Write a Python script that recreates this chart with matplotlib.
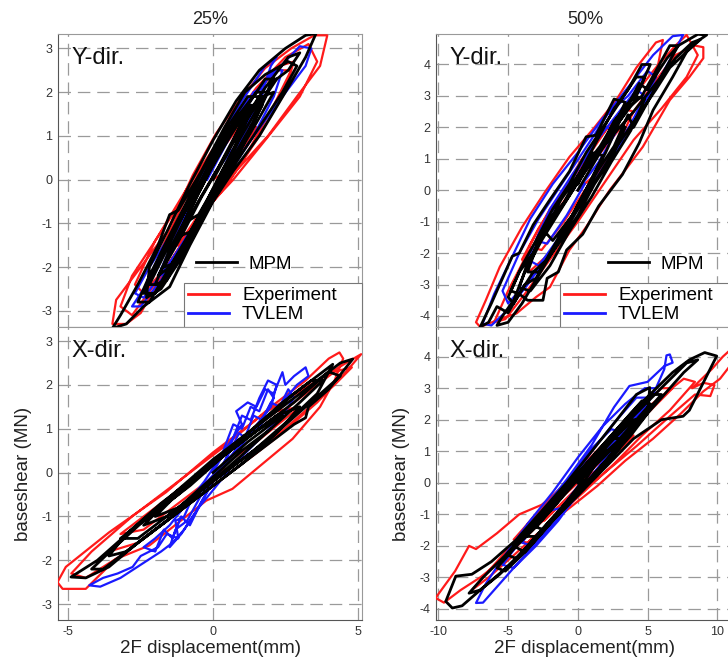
import matplotlib
matplotlib.use("Agg")
import matplotlib.pyplot as plt
from matplotlib.lines import Line2D

plt.rcParams['font.family'] = ['Liberation Sans', 'DejaVu Sans']
plt.rcParams['axes.unicode_minus'] = False

# ---------------- data: (displacement mm, base shear MN) ----------------
# 25 % level, Y direction
y25_exp_d = [0.0, 0.7, 1.5, 1.0, 0.2, -0.6, -1.3, -0.8, 0.0, 1.0, 2.1, 2.7, 2.2, 1.2, 0.2, -0.9, -2.0, -2.7, -2.4, -1.5, -0.4, 0.8, 1.9, 2.9, 3.7, 3.95, 3.5, 2.7, 1.8, 0.9, 0.1, -0.7, -1.6, -2.5, -3.35, -3.48, -3.0, -2.5, -1.6, -0.5, 0.7, 1.8, 3.0, 3.6, 3.3, 2.5, 1.5, 0.5, -0.6, -1.8, -2.8, -3.2, -2.8, -1.8, -0.6, 0.5, 1.5, 2.4, 2.8, 2.3, 1.2, 0.0, -1.0, -1.8, -1.2, 0.0, 0.6]
y25_exp_f = [0.0, 0.3, 1.2, 1.3, 0.6, -0.3, -1.3, -1.2, -0.5, 0.4, 1.7, 2.5, 2.5, 1.8, 0.9, -0.2, -1.4, -2.4, -2.6, -1.9, -0.8, 0.2, 1.0, 1.9, 2.6, 3.3, 3.3, 3.0, 2.55, 1.8, 1.05, 0.1, -1.2, -2.0, -2.75, -3.3, -3.3, -3.05, -2.0, -0.85, 0.0, 0.9, 1.9, 2.7, 3.1, 2.8, 2.1, 1.2, 0.0, -1.2, -2.2, -2.9, -3.1, -2.2, -1.0, -0.1, 0.9, 1.9, 2.7, 2.6, 1.8, 0.6, -0.5, -1.6, -1.5, -0.3, 0.4]
y25_tvlem_d = [0.0, 0.8, 1.6, 2.0, 2.2, 1.8, 1.0, 0.1, -0.8, -1.6, -2.3, -2.8, -2.5, -1.8, -0.9, 0.2, 1.3, 2.4, 3.2, 3.4, 3.0, 2.2, 1.3, 0.4, -0.5, -1.4, -2.2, -2.7, -2.4, -1.5, -0.5, 0.5, 1.4, 2.1, 2.4, 2.1, 1.4, 0.5, -0.5, -1.3, -1.9, -1.5, -0.6, 0.3, 1.2, 1.8, 1.4, 0.6, -0.2]
y25_tvlem_f = [0.1, 0.8, 1.8, 2.6, 2.8, 2.6, 1.8, 0.8, -0.4, -1.6, -2.4, -2.9, -2.9, -2.3, -1.3, -0.2, 0.9, 1.9, 2.6, 3.0, 3.05, 2.5, 1.9, 1.1, 0.0, -1.2, -2.0, -2.6, -2.7, -1.9, -0.9, 0.1, 1.0, 1.9, 2.5, 2.5, 1.9, 1.0, -0.2, -1.3, -2.2, -2.1, -1.1, 0.0, 1.2, 2.1, 2.0, 1.0, 0.0]
y25_mpm_d = [0.0, 0.5, 1.0, 0.6, -0.1, -0.7, -1.2, -0.8, -0.2, 0.6, 1.4, 1.9, 1.5, 0.8, 0.0, -0.8, -1.6, -2.2, -1.8, -1.0, -0.2, 0.7, 1.6, 2.4, 2.9, 2.6, 1.8, 1.1, 0.4, -0.4, -1.2, -1.5, -1.9, -2.6, -3.2, -3.48, -3.0, -2.4, -2.2, -1.5, -0.8, 0.0, 0.7, 1.6, 2.5, 3.2, 3.56, 3.2, 2.5, 1.6, 0.8, 0.0, -0.8, -1.6, -2.2, -2.3, -1.8, -1.0, -0.2, 0.6, 1.4, 2.0, 2.6, 3.0, 2.6, 1.8, 1.0, 0.2, -0.6, -1.4, -1.9, -1.5, -0.7, 0.1, 0.8, 1.3, 0.9, 0.2, -0.5, -1.0, -0.5, 0.2,
             0.9, 1.6, 2.2, 1.8, 1.0, 0.3, -0.5, -1.2, -1.9, -2.4, -2.0, -1.3, -0.6, 0.1, 0.8, 1.5, 2.1, 1.7, 1.0, 0.3, -0.4, -1.1, -1.7, -1.3, -0.6, 0.0, 0.7, 1.2,
             1.6, 1.2, 0.5, -0.2, -0.9, -1.6, -2.2, -2.6, -2.2, -1.5, -0.8, -0.1, 0.6, 1.2, 1.7, 1.3, 0.6, -0.1, -0.8, -1.5, -2.0, -1.6, -0.9, -0.2, 0.4]
y25_mpm_f = [0.0, 0.6, 1.3, 1.2, 0.4, -0.5, -1.3, -1.2, -0.5, 0.3, 1.3, 2.0, 2.0, 1.4, 0.5, -0.5, -1.6, -2.4, -2.4, -1.6, -0.7, 0.3, 1.2, 2.0, 2.6, 2.7, 2.4, 2.0, 1.2, 0.2, -0.7, -0.8, -1.5, -2.4, -3.1, -3.4, -3.3, -2.9, -2.8, -2.45, -1.5, -0.5, 0.2, 1.0, 2.0, 2.8, 3.34, 3.3, 3.0, 2.5, 1.8, 0.9, -0.1, -1.2, -2.0, -2.7, -2.5, -1.7, -0.7, 0.2, 1.3, 2.2, 2.5, 2.9, 2.8, 2.1, 1.3, 0.3, -0.6, -1.6, -2.2, -2.0, -1.1, -0.1, 0.8, 1.6, 1.5, 0.6, -0.3, -1.0, -0.8, 0.0,
             0.9, 1.7, 2.3, 2.3, 1.5, 0.7, -0.2, -1.0, -1.9, -2.6, -2.6, -1.9, -1.1, -0.3, 0.5, 1.3, 2.0, 1.9, 1.2, 0.4, -0.4, -1.3, -2.0, -1.9, -1.0, -0.2, 0.7, 1.4,
             1.9, 1.9, 1.2, 0.4, -0.5, -1.4, -2.2, -2.8, -2.8, -2.0, -1.3, -0.5, 0.4, 1.1, 1.7, 1.7, 1.0, 0.2, -0.7, -1.6, -2.4, -2.3, -1.4, -0.6, 0.1]

# 50 % level, Y direction
y50_exp_d = [0.0, 1.5, 3.0, 4.0, 3.2, 1.8, 0.3, -1.3, -2.8, -4.0, -3.5, -2.0, -0.5, 1.0, 2.6, 4.2, 5.5, 6.1, 5.6, 4.2, 2.8, 1.2, -0.6, -2.27, -4.0, -5.6, -6.6, -7.3, -7.0, -5.6, -4.4, -3.0, -2.0, -0.6, 0.6, 2.28, 3.5, 4.66, 5.6, 6.6, 8.0, 9.0, 9.0, 8.4, 7.0, 5.6, 4.0, 2.0, 0.0, -2.0, -3.6, -5.0, -6.0, -5.2, -3.8, -2.0, 0.0, 2.0, 4.0, 6.0, 7.8, 8.6, 7.8, 7.0, 5.6, 4.0, 2.0, 0.0, -2.0, -3.5, -2.6, -1.0, 0.5]
y50_exp_f = [0.0, 0.6, 1.6, 2.5, 2.6, 1.8, 1.0, -0.2, -1.2, -2.2, -2.6, -2.0, -0.9, 0.2, 1.2, 2.4, 3.4, 4.78, 4.7, 3.9, 2.9, 2.0, 1.06, 0.0, -1.17, -2.44, -3.5, -4.2, -4.35, -4.1, -3.92, -3.4, -3.08, -1.9, -1.17, 0.0, 0.7, 1.38, 2.1, 2.87, 3.6, 4.2, 4.55, 4.6, 4.3, 3.5, 2.5, 1.4, 0.3, -1.0, -2.0, -3.2, -4.2, -4.1, -3.3, -2.2, -1.0, 0.3, 1.6, 2.6, 3.6, 4.3, 4.94, 4.6, 3.9, 3.0, 1.9, 0.6, -0.6, -1.8, -1.9, -1.0, 0.0]
y50_tvlem_d = [0.0, 1.5, 2.8, 2.0, 0.5, -1.2, -2.6, -3.6, -2.8, -1.5, 0.0, 1.6, 3.2, 4.6, 5.6, 5.0, 3.6, 1.8, 0.0, -1.8, -3.4, -4.8, -6.0, -6.83, -6.2, -5.0, -3.6, -2.0, -0.5, 1.2, 2.8, 4.4, 5.8, 6.8, 7.55, 6.8, 5.4, 4.0, 2.4, 0.8, -1.0, -2.8, -4.2, -5.4, -5.0, -3.8, -2.2, -0.8, 0.8, 2.4, 3.8, 4.8, 4.2, 2.8, 1.2, -0.4, -2.0, -3.0, -2.2, -0.8, 0.5]
y50_tvlem_f = [0.0, 0.9, 1.9, 2.0, 1.0, -0.2, -1.2, -2.2, -2.4, -1.6, -0.6, 0.5, 1.6, 2.7, 3.6, 3.8, 3.0, 2.3, 1.2, 0.2, -0.9, -2.2, -3.3, -4.25, -4.3, -3.8, -3.0, -2.0, -0.9, 0.3, 1.4, 2.5, 3.5, 4.3, 4.94, 4.9, 4.3, 3.5, 2.6, 1.5, 0.3, -0.9, -2.0, -3.2, -3.6, -3.0, -2.2, -1.2, 0.0, 1.0, 2.1, 3.0, 3.2, 2.4, 1.5, 0.5, -0.6, -1.6, -1.7, -0.8, 0.2]
y50_mpm_d = [0.0, 1.2, 2.4, 3.4, 2.6, 1.3, 0.6, -0.6, -2.0, -3.2, -4.2, -4.7, -5.4, -6.2, -7.0, -6.4, -5.8, -5.0, -4.2, -3.6, -2.5, -2.2, -1.4, -0.8, 0.35, 1.5, 3.2, 4.4, 5.4, 6.8, 8.0, 9.24, 8.6, 7.2, 6.4, 5.8, 5.0, 4.4, 3.6, 2.6, 1.5, 0.2, -1.2, -2.6, -3.8, -4.6, -5.4, -5.8, -5.0, -4.0, -3.2, -2.4, -1.2, 0.0, 1.4, 2.8, 4.2, 5.6, 6.6, 7.8, 8.8, 8.2, 7.0, 5.6, 4.0, 2.4, 0.8, -0.8, -2.2, -3.6, -4.2, -3.4, -2.0, -0.6, 1.0, 2.4, 3.8, 4.8, 4.0, 2.8, 1.6, 0.2, -1.2, -2.4, -1.8, -0.4, 0.8, 1.8, 1.0, 0.0,
             1.0, 2.2, 3.4, 4.4, 5.2, 4.6, 3.6, 2.6, 1.4, 0.2, -1.0, -2.2, -3.2, -4.2, -5.0, -4.6, -3.8, -3.0, -2.0, -1.0, 0.2, 1.4, 2.6, 3.6, 4.0, 5.0, 6.2, 7.2, 6.6, 5.6, 4.6, 3.6, 2.4, 1.0, -0.4, -1.6, -2.8, -3.6, -2.8, -1.6, -0.4, 0.8,
             2.0, 3.0, 4.0, 4.8, 4.2, 3.0, 1.8, 0.6, -0.6, -1.8, -3.0, -4.0, -4.8, -4.2, -3.2, -2.2, -1.2, 0.0, 1.2, 2.4, 3.4]
y50_mpm_f = [0.0, 0.9, 1.8, 2.8, 2.9, 1.75, 1.7, 0.6, -0.3, -1.1, -2.0, -2.1, -2.8, -3.6, -4.35, -4.2, -3.7, -3.9, -3.3, -3.5, -3.5, -2.8, -2.6, -1.9, -1.4, -0.5, 0.5, 1.5, 2.55, 3.6, 4.56, 4.94, 4.96, 4.6, 4.2, 3.8, 3.2, 3.4, 2.7, 2.2, 1.2, 0.4, -0.6, -1.6, -2.6, -3.5, -4.0, -4.3, -4.2, -3.6, -3.0, -2.4, -1.5, -0.6, 0.4, 1.4, 2.3, 3.2, 3.9, 4.4, 4.8, 4.7, 4.2, 3.4, 2.5, 1.7, 0.8, -0.3, -1.2, -2.3, -3.1, -3.2, -2.4, -1.3, -0.2, 0.9, 1.9, 2.9, 3.0, 2.3, 1.4, 0.6, -0.3, -1.3, -1.6, -0.8, 0.2, 1.1, 1.2, 0.2,
             1.0, 1.6, 2.6, 3.2, 4.0, 4.0, 3.2, 2.6, 1.6, 0.6, -0.4, -1.0, -2.0, -2.6, -3.4, -3.6, -3.0, -2.8, -2.0, -1.2, -0.4, 0.6, 1.4, 2.4, 2.0, 2.8, 3.8, 4.6, 4.6, 3.8, 3.0, 2.6, 1.8, 1.0, 0.0, -0.8, -1.6, -2.6, -2.6, -1.8, -0.8, 0.2,
             1.2, 2.2, 2.8, 3.6, 3.6, 2.8, 2.0, 1.2, 0.2, -0.6, -1.6, -2.4, -3.2, -3.3, -2.6, -2.2, -1.6, -0.8, 0.2, 1.0, 2.0]

# 25 % level, X direction
x25_exp_d = [0.0, 1.5, 3.0, 2.2, 0.8, -0.8, -2.4, -3.6, -2.6, -1.0, 0.6, 2.2, 3.6, 4.6, 5.12, 4.6, 3.6, 1.83, 0.0, -1.63, -3.59, -5.09, -5.38, -5.2, -4.4, -3.36, -2.2, -0.24, 0.67, 2.75, 3.7, 4.2, 4.5, 4.37, 4.0, 3.2, 2.0, 0.4, -1.2, -2.8, -4.2, -4.9, -4.4, -3.2, -1.6, 0.0, 1.6, 3.0, 4.2, 4.8, 4.2, 2.8, 1.2, -0.4, -2.0, -3.2, -2.4, -1.0, 0.4]
x25_exp_f = [0.0, 0.7, 1.5, 1.4, 0.7, -0.2, -1.1, -1.8, -1.6, -0.8, 0.0, 0.8, 1.6, 2.3, 2.7, 2.5, 2.1, 1.38, 0.46, -0.45, -1.36, -2.15, -2.5, -2.65, -2.65, -1.97, -1.66, -0.64, -0.37, 0.77, 1.5, 2.1, 2.6, 2.74, 2.6, 2.1, 1.5, 0.6, -0.2, -1.0, -1.8, -2.3, -2.4, -1.9, -1.1, -0.3, 0.5, 1.3, 2.0, 2.4, 2.3, 1.6, 0.8, 0.0, -0.8, -1.4, -1.3, -0.6, 0.1]
x25_tvlem_d = [0.0, 0.5, 1.0, 0.8, 1.2, 1.5, 1.8, 2.1, 2.4, 2.5, 2.8, 3.2, 3.3, 2.9, 2.4, 1.8, 1.2, 0.5, -0.2, -0.8, -1.0, -1.3, -1.2, -1.6, -1.9, -2.5, -2.78, -3.3, -3.8, -4.28, -3.9, -3.2, -2.5, -1.8, -1.4, -1.0, -0.6, -0.1, 0.4, 0.7, 1.0, 1.3, 1.6, 1.9, 2.2, 2.0, 1.4, 0.8, 0.2, -0.4, -0.9, -1.3, -1.5, -1.1, -0.5, 0.0,
               0.6, 0.9, 1.1, 1.4, 1.7, 2.0, 2.3, 2.6, 2.8, 2.4, 1.8, 1.2, 0.6, 0.0, -0.5, -0.8, -1.1, -1.4, -1.7, -2.0, -2.4, -2.0, -1.5, -0.9, -0.3, 0.3, 0.7, 1.0, 1.3, 1.6, 1.9, 2.1, 1.6, 0.9, 0.3]
x25_tvlem_f = [0.0, 0.6, 1.1, 1.4, 1.6, 1.5, 1.9, 1.8, 2.29, 2.0, 2.2, 2.4, 2.2, 2.0, 1.6, 1.2, 0.8, 0.3, -0.2, -0.7, -1.0, -1.1, -1.5, -1.4, -1.7, -1.9, -2.15, -2.3, -2.4, -2.57, -2.6, -2.4, -2.1, -1.8, -1.6, -1.3, -0.9, -0.3, 0.2, 0.8, 1.3, 1.2, 1.7, 2.1, 2.0, 1.5, 1.0, 0.5, 0.0, -0.5, -1.1, -1.3, -1.7, -1.4, -0.8, -0.2,
               0.5, 0.9, 0.8, 1.3, 1.2, 1.6, 1.5, 1.9, 1.7, 1.3, 0.9, 0.5, 0.1, -0.4, -0.8, -1.2, -1.0, -1.5, -1.3, -1.8, -1.7, -1.5, -1.2, -0.7, -0.2, 0.4, 1.1, 1.0, 1.5, 1.4, 1.9, 1.7, 1.1, 0.6, 0.1]
x25_mpm_d = [0.0, 1.2, 2.4, 1.6, 0.2, -1.2, -2.4, -1.6, -0.2, 1.4, 2.8, 3.6, 4.14, 3.8, 2.8, 1.4, 0.0, -1.4, -2.8, -4.0, -4.91, -4.4, -3.6, -2.6, -1.2, 0.0, 1.4, 2.8, 3.2, 3.3, 4.0, 4.83, 4.4, 3.6, 2.4, 1.0, -0.4, -1.8, -3.0, -3.6, -3.0, -1.8, -0.4, 1.0, 2.2, 3.0, 2.2, 1.0, -0.2, -1.4, -2.0, -1.2, 0.0,
             1.0, 2.0, 3.0, 3.8, 3.4, 2.4, 1.2, 0.0, -1.2, -2.4, -3.4, -4.2, -3.8, -2.8, -1.6, -0.4, 0.8, 2.0, 3.2, 4.4, 4.0, 2.8, 1.6, 0.4, -0.8, -2.0, -3.2, -2.6, -1.4, -0.2, 1.0, 2.0]
x25_mpm_f = [0.0, 0.7, 1.3, 1.0, 0.3, -0.4, -1.2, -1.0, -0.3, 0.5, 1.3, 1.8, 2.47, 2.3, 1.8, 1.0, 0.3, -0.5, -1.3, -2.0, -2.38, -2.4, -2.15, -1.6, -0.9, -0.3, 0.4, 1.1, 1.25, 1.5, 1.9, 2.59, 2.5, 2.1, 1.5, 0.8, 0.0, -0.7, -1.4, -1.9, -1.8, -1.2, -0.5, 0.2, 0.9, 1.5, 1.3, 0.7, 0.1, -0.6, -1.0, -0.8, -0.1,
             0.5, 1.0, 1.6, 2.1, 2.1, 1.6, 0.9, 0.2, -0.5, -1.1, -1.7, -2.2, -2.2, -1.7, -1.1, -0.4, 0.2, 0.8, 1.5, 2.2, 2.3, 1.6, 1.0, 0.4, -0.3, -0.9, -1.5, -1.5, -0.9, -0.3, 0.4, 1.0]

# 50 % level, X direction
x50_exp_d = [0.0, 2.0, 4.0, 3.0, 1.0, -1.0, -3.0, -4.6, -3.6, -1.6, 0.4, 2.6, 4.6, 6.6, 8.4, 7.6, 5.6, 3.6, 1.6, -0.6, -2.6, -4.2, -5.8, -7.3, -7.8, -8.8, -10.2, -9.6, -8.4, -7.0, -5.0, -3.0, -1.0, 1.32, 4.2, 6.6, 8.4, 9.5, 9.8, 9.0, 8.2, 9.6, 10.4, 10.9, 10.9, 10.2, 9.0, 7.4, 5.4, 3.4, 1.4, -0.6, -2.6, -4.6, -6.4, -7.6, -6.8, -5.0, -3.0, -1.0, 1.0, 3.0, 5.0, 6.8, 6.0, 4.0, 2.0, 0.0, -2.0, -3.6, -2.4, -0.6, 1.0]
x50_exp_f = [0.0, 0.6, 1.5, 1.6, 0.8, -0.2, -1.0, -1.8, -1.9, -1.1, -0.3, 0.6, 1.5, 2.3, 3.2, 3.3, 2.6, 1.9, 1.0, 0.0, -0.7, -1.0, -1.6, -2.1, -2.0, -2.8, -3.65, -3.8, -3.4, -3.0, -2.3, -1.4, -0.6, 0.1, 1.16, 2.11, 2.8, 2.75, 3.1, 3.17, 3.0, 3.6, 4.0, 4.2, 3.7, 3.3, 2.9, 2.2, 1.4, 0.7, -0.1, -0.8, -1.5, -2.3, -3.0, -3.4, -3.0, -2.1, -1.2, -0.4, 0.4, 1.3, 2.2, 3.0, 3.0, 2.2, 1.3, 0.4, -0.5, -1.3, -1.2, -0.4, 0.3]
x50_tvlem_d = [0.0, 1.6, 3.2, 2.4, 0.8, -1.0, -2.6, -4.0, -3.2, -1.6, 0.2, 2.0, 3.6, 5.0, 5.6, 4.8, 3.4, 1.8, 0.0, -1.8, -3.6, -5.4, -6.6, -7.3, -6.8, -5.8, -4.4, -2.8, -1.0, 1.0, 2.8, 4.4, 5.6, 6.2, 6.36, 6.6, 6.8, 6.2, 5.0, 3.7, 2.6, 1.0, -0.8, -2.6, -4.2, -5.4, -4.6, -3.0, -1.4, 0.4, 2.2, 3.8, 5.0, 4.2, 2.6, 1.0, -0.6, -2.2, -1.2, 0.2]
x50_tvlem_f = [0.0, 0.8, 1.6, 1.7, 1.0, -0.1, -1.0, -1.9, -2.0, -1.2, -0.3, 0.7, 1.6, 2.5, 3.0, 3.0, 2.5, 1.8, 0.8, -0.3, -1.3, -2.4, -3.2, -3.81, -3.8, -3.3, -2.6, -1.8, -0.9, 0.2, 1.2, 2.2, 3.0, 3.6, 4.04, 4.07, 3.81, 3.7, 3.2, 3.07, 2.4, 1.2, 0.1, -0.9, -1.9, -2.6, -2.7, -2.0, -1.2, -0.1, 0.9, 1.9, 2.7, 2.7, 1.9, 1.0, 0.0, -0.9, -0.8, 0.0]
x50_mpm_d = [0.0, 1.6, 3.2, 2.4, 0.8, -0.8, -2.4, -3.8, -3.0, -1.4, 0.4, 2.2, 3.8, 5.0, 5.16, 4.2, 2.8, 1.0, -0.8, -2.6, -4.4, -6.2, -7.6, -8.75, -9.47, -9.0, -8.3, -7.0, -5.4, -3.6, -1.8, 0.0, 2.0, 4.0, 6.0, 7.55, 8.0, 8.8, 9.96, 9.1, 8.0, 6.8, 5.4, 3.8, 2.0, 0.2, -1.6, -3.4, -5.2, -6.8, -7.8, -7.0, -5.6, -3.8, -2.0, 0.0, 2.0, 4.0, 6.0, 7.6, 8.6, 7.8, 6.2, 4.4, 2.6, 0.8, -1.0, -2.8, -4.6, -3.8, -2.2, -0.4, 1.4, 3.0, 2.0, 0.4,
             1.8, 3.2, 4.6, 6.0, 5.4, 4.0, 2.6, 1.2, -0.2, -1.6, -3.0, -4.4, -5.8, -5.2, -3.8, -2.4, -1.0, 0.4, 1.8, 3.2, 4.6, 4.0, 2.6, 1.2, -0.2, -1.6, -3.0, -2.4, -1.0, 0.4,
             1.6, 2.8, 4.0, 5.2, 4.6, 3.4, 2.2, 1.0, -0.2, -1.4, -2.6, -3.8, -5.0, -4.4, -3.2, -2.0, -0.8, 0.4]
x50_mpm_f = [0.0, 0.7, 1.4, 1.4, 0.6, -0.2, -1.0, -1.7, -1.7, -1.0, -0.2, 0.7, 1.5, 2.2, 3.02, 2.8, 2.0, 1.0, 0.0, -0.9, -1.8, -2.5, -2.9, -2.96, -3.76, -3.97, -3.9, -3.4, -2.8, -2.1, -1.2, -0.4, 0.5, 1.4, 2.0, 2.11, 2.3, 3.0, 4.02, 4.13, 3.9, 3.5, 2.9, 2.2, 1.3, 0.4, -0.5, -1.4, -2.3, -3.0, -3.5, -3.4, -2.9, -2.1, -1.2, -0.3, 0.7, 1.7, 2.7, 3.5, 3.9, 3.8, 3.1, 2.3, 1.5, 0.6, -0.3, -1.2, -2.0, -2.2, -1.4, -0.5, 0.3, 1.1, 1.0, 0.2,
             0.8, 1.4, 2.1, 2.8, 2.8, 2.2, 1.5, 0.8, 0.1, -0.7, -1.4, -2.0, -2.7, -2.8, -2.2, -1.5, -0.8, -0.1, 0.6, 1.3, 2.0, 2.0, 1.4, 0.7, 0.0, -0.7, -1.4, -1.5, -0.7, 0.0,
             0.8, 1.3, 1.9, 2.5, 2.6, 2.0, 1.4, 0.8, 0.2, -0.4, -1.0, -1.6, -2.3, -2.4, -1.8, -1.2, -0.6, 0.1]

col_titles = ["25%", "50%"]
row_labels = ["Y-dir.", "X-dir."]
series_names = ["MPM", "Experiment", "TVLEM"]
series_colors = {"MPM": "#000000", "Experiment": "#ff1a1a", "TVLEM": "#1a1aff"}

panels = {
    (0, 0): dict(exp=(y25_exp_d, y25_exp_f), tvlem=(y25_tvlem_d, y25_tvlem_f), mpm=(y25_mpm_d, y25_mpm_f),
                 xlim=(-5.36, 5.15), ylim=(-3.37, 3.33), xt=[-5, 0, 5], yt=[-3, -2, -1, 0, 1, 2, 3]),
    (0, 1): dict(exp=(y50_exp_d, y50_exp_f), tvlem=(y50_tvlem_d, y50_tvlem_f), mpm=(y50_mpm_d, y50_mpm_f),
                 xlim=(-10.17, 11.2), ylim=(-4.35, 4.97), xt=[-10, -5, 0, 5, 10], yt=[-4, -3, -2, -1, 0, 1, 2, 3, 4]),
    (1, 0): dict(exp=(x25_exp_d, x25_exp_f), tvlem=(x25_tvlem_d, x25_tvlem_f), mpm=(x25_mpm_d, x25_mpm_f),
                 xlim=(-5.36, 5.15), ylim=(-3.36, 3.32), xt=[-5, 0, 5], yt=[-3, -2, -1, 0, 1, 2, 3]),
    (1, 1): dict(exp=(x50_exp_d, x50_exp_f), tvlem=(x50_tvlem_d, x50_tvlem_f), mpm=(x50_mpm_d, x50_mpm_f),
                 xlim=(-10.17, 11.2), ylim=(-4.35, 4.94), xt=[-10, -5, 0, 5, 10], yt=[-4, -3, -2, -1, 0, 1, 2, 3, 4]),
}

W, H = 728, 665
fig = plt.figure(figsize=(W / 100, H / 100), dpi=100)

# axes boxes in pixels: (left, top, right, bottom)
boxes = {
    (0, 0): (58, 34, 362, 327),
    (1, 0): (58, 327, 362, 620),
    (0, 1): (436, 34, 734, 327),
    (1, 1): (436, 327, 734, 620),
}

axes = {}
for key, (l, t, r, b) in boxes.items():
    ax = fig.add_axes([l / W, 1 - b / H, (r - l) / W, (b - t) / H])
    axes[key] = ax
    p = panels[key]
    lw = 1.6
    ax.plot(*p["exp"], color=series_colors["Experiment"], lw=lw, solid_joinstyle="round", zorder=3)
    ax.plot(*p["tvlem"], color=series_colors["TVLEM"], lw=lw, solid_joinstyle="round", zorder=4)
    ax.plot(*p["mpm"], color=series_colors["MPM"], lw=lw + 0.4, solid_joinstyle="round", zorder=5)
    ax.set_xlim(*p["xlim"])
    ax.set_ylim(*p["ylim"])
    ax.set_xticks(p["xt"])
    ax.set_yticks(p["yt"])
    ax.grid(True, color="#9a9a9a", linestyle=(0, (10, 5.5)), linewidth=0.9, zorder=1)
    ax.tick_params(length=0, labelsize=9, colors="#333333", pad=4)
    for side in ("left", "bottom"):
        ax.spines[side].set_color("#555555")
    for side in ("top", "right"):
        ax.spines[side].set_color("#999999")
    row, col = key
    if row == 0:
        ax.tick_params(labelbottom=False)
        ax.set_title(col_titles[col], fontsize=13, color="#222222", pad=7)
    else:
        ax.set_xlabel("2F displacement(mm)", fontsize=13.5, color="#222222", labelpad=2)
        ax.set_ylabel("baseshear (MN)", fontsize=13.5, color="#222222", labelpad=7)
    ax.text(0.045, 0.955, row_labels[row], transform=ax.transAxes, fontsize=17,
            color="#111111", ha="left", va="top", zorder=6)

# legends in the upper panels: MPM on its own, the other two in a framed box
handles = {n: Line2D([], [], color=series_colors[n], lw=2) for n in series_names}
for col in (0, 1):
    ax = axes[(0, col)]
    l, t, r, b = boxes[(0, col)]
    box_left = 184 if col == 0 else 560
    box_right = 362 if col == 0 else 740
    x0 = (box_left - l) / (r - l)
    w0 = (box_right - box_left) / (r - l)
    h0 = 50 / (b - t)
    leg2 = ax.legend([handles["Experiment"], handles["TVLEM"]], ["Experiment", "TVLEM"],
                     loc="lower left", bbox_to_anchor=(x0, 0.0, w0, h0), mode="expand",
                     fontsize=13.5, frameon=True, fancybox=False, edgecolor="#777777", framealpha=1,
                     borderpad=0.2, handlelength=2.2, handletextpad=0.7, labelspacing=0.1,
                     borderaxespad=0.0)
    leg2.get_frame().set_linewidth(0.8)
    leg2.set_zorder(10)
    ax.add_artist(leg2)
    mpm_left = box_left + 12 if col == 0 else box_left + 48
    leg1 = ax.legend([handles["MPM"]], ["MPM"], loc="lower left",
                     bbox_to_anchor=((mpm_left - l) / (r - l), 54 / (b - t)), fontsize=13.5, frameon=False,
                     handlelength=2.2, handletextpad=0.6, borderpad=0.0, borderaxespad=0.0)
    leg1.set_zorder(10)

fig.savefig("out.png", dpi=100)
